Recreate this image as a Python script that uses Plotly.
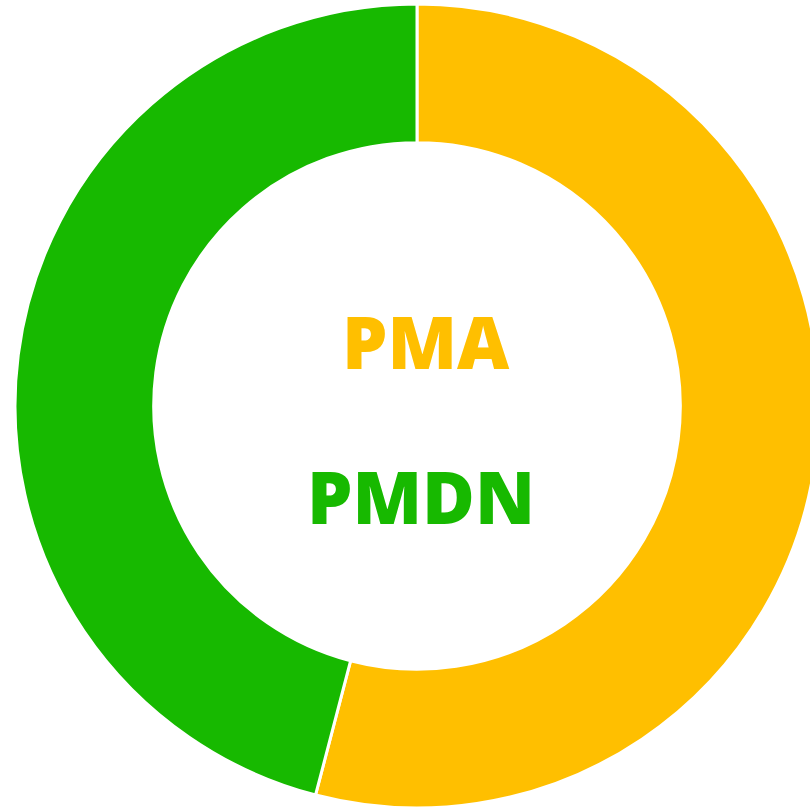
import plotly.graph_objects as go

labels = ["PMA", "PMDN"]
values = [54.06, 45.94]
colors = ["#FFBF00", "#17B900"]

fig = go.Figure(go.Pie(
    labels=labels,
    values=values,
    hole=0.655,
    sort=False,
    direction="clockwise",
    rotation=0,
    marker=dict(colors=colors, line=dict(color="white", width=3)),
    textinfo="none",
    hoverinfo="label+percent",
    showlegend=False,
))

fig.update_layout(
    width=834, height=810,
    margin=dict(l=15, r=15, t=4, b=2),
    paper_bgcolor="white",
    plot_bgcolor="white",
    annotations=[
        dict(text="PMA", x=0.5112, y=0.581, xref="paper", yref="paper",
             showarrow=False, xanchor="center", yanchor="middle",
             font=dict(family="Open Sans", size=72, color=colors[0], weight=800)),
        dict(text="PMDN", x=0.5052, y=0.388, xref="paper", yref="paper",
             showarrow=False, xanchor="center", yanchor="middle",
             font=dict(family="Open Sans", size=72, color=colors[1], weight=800)),
    ],
)

fig.write_html("out.html", config={"displayModeBar": False},
               post_script="document.body.style.margin='0';document.body.style.overflow='hidden';")
